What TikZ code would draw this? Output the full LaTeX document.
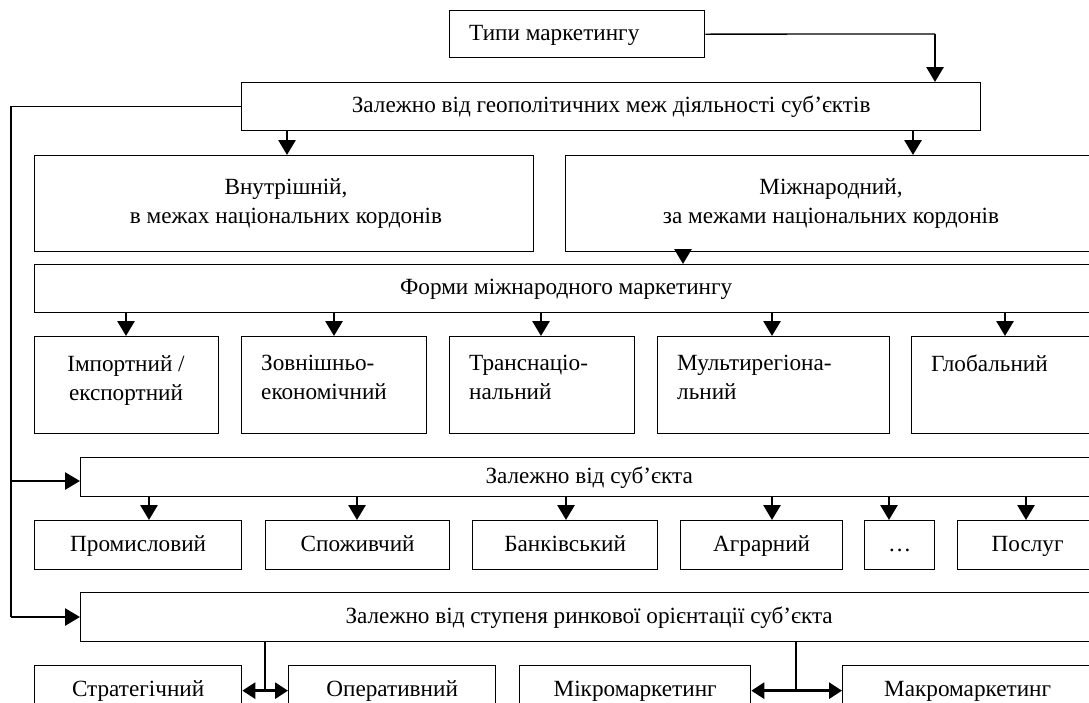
\documentclass[tikz,border=0pt]{standalone}
\usepackage{fontspec}
\setmainfont{Liberation Serif}
\usetikzlibrary{arrows.meta}
\newcommand\mybox[6]{\node[box,minimum width={(#4)-(#2)},minimum height={(#5)-(#3)}] (#1) at (#2,#3) {#6};}
\begin{document}
\begin{tikzpicture}[x=1pt,y=-1pt,
  box/.style={draw,line width=1.3pt,rectangle,inner sep=0pt,anchor=north west,font=\fontsize{23.2}{29}\selectfont,text height=15pt,text depth=3pt},
  txt/.style={font=\fontsize{23.2}{29}\selectfont,inner sep=0pt},
  arr/.style={line width=2.8pt,-{Triangle[width=17pt,length=15pt]}},
  dbl/.style={line width=2.8pt,{Triangle[width=16pt,length=13pt]}-{Triangle[width=16pt,length=13pt]}},
  thinl/.style={line width=1.3pt}]
\useasboundingbox (0,0) rectangle (1089,702);
\clip (0,0) rectangle (1089,702);
% boxes
\mybox{tipy}{449}{10}{704}{57}{}
\node[txt,anchor=west] (tipyt) at (469,35) {Типи маркетингу};
\mybox{geo}{241}{82}{980}{130}{Залежно від геополітичних меж діяльності суб’єктів}
\mybox{vnutr}{34}{155}{533}{251}{}
\node[txt,align=center] (vnutrt) at (286,204) {Внутрішній,\\в межах національних кордонів};
\mybox{mizh}{565}{155}{1097}{251}{}
\node[txt,align=center] (mizht) at (831,204) {Міжнародний,\\за межами національних кордонів};
\mybox{forms}{34}{264}{1097}{312}{Форми міжнародного маркетингу}
\mybox{fa}{34}{336}{218}{433}{}
\mybox{fb}{241}{336}{426}{433}{}
\mybox{fc}{449}{336}{634}{433}{}
\mybox{fd}{657}{336}{889}{433}{}
\mybox{fe}{911}{336}{1097}{433}{}
\node[txt,align=center,anchor=north] (fat) at (126,355) {Імпортний /\\експортний};
\node[txt,align=left,anchor=north west] (fbt) at (261,355) {Зовнішньо-\\економічний};
\node[txt,align=left,anchor=north west] (fct) at (469,355) {Транснаціо-\\нальний};
\node[txt,align=left,anchor=north west] (fdt) at (677,355) {Мультирегіона-\\льний};
\node[txt,align=left,anchor=north west] (fet) at (931,355) {Глобальний};
\mybox{subj}{80}{457}{1097}{496}{Залежно від суб’єкта}
\mybox{pa}{34}{520}{241}{569}{Промисловий}
\mybox{pb}{265}{520}{449}{569}{Споживчий}
\mybox{pc}{472}{520}{657}{569}{Банківський}
\mybox{pd}{680}{520}{842}{569}{Аграрний}
\mybox{pe}{864}{520}{934}{569}{\dots}
\mybox{pf}{957}{520}{1097}{569}{Послуг}
\mybox{stup}{80}{592}{1097}{641}{Залежно від ступеня ринкової орієнтації суб’єкта}
\mybox{sa}{34}{665}{241}{715}{Стратегічний}
\mybox{sb}{288}{665}{495}{715}{Оперативний}
\mybox{sc}{519}{665}{750}{715}{Мікромаркетинг}
\mybox{sd}{842}{665}{1092}{715}{Макромаркетинг}
% connectors
\coordinate (c1) at (935,34);
\draw[thinl] (tipy.east) -- (c1);
\draw[arr] (c1) -- (c1 |- geo.north);
\coordinate (xg1) at (287,0);
\coordinate (xg2) at (913,0);
\draw[arr] (geo.south -| xg1) -- (vnutr.north -| xg1);
\draw[arr] (geo.south -| xg2) -- (mizh.north -| xg2);
\coordinate (xm) at (683,0);
\draw[arr] (mizh.south -| xm) -- (forms.north -| xm);
\foreach \xx/\bb in {126/fa,334/fb,541/fc,772/fd,1005/fe}{
  \coordinate (xf) at (\xx,0);
  \draw[arr] (forms.south -| xf) -- (\bb.north -| xf);
}
\foreach \xx/\bb in {149/pa,357/pb,566/pc,772/pd,889/pe,1026/pf}{
  \coordinate (xs) at (\xx,0);
  \draw[arr] (subj.south -| xs) -- (\bb.north -| xs);
}
\coordinate (L1) at (11,481);
\coordinate (L2) at (11,617);
\draw[thinl] (geo.west) -| (L2);
\draw[arr] (L1) -- (L1 -| subj.west);
\draw[arr] (L2) -- (L2 -| stup.west);
\coordinate (m1) at (265,690);
\coordinate (m2) at (796,690);
\draw[thinl] (stup.south -| m1) -- (m1);
\draw[thinl] (stup.south -| m2) -- (m2);
\draw[dbl] (sa.east) -- (sb.west);
\draw[dbl] (sc.east) -- (sd.west);
\end{tikzpicture}
\end{document}
